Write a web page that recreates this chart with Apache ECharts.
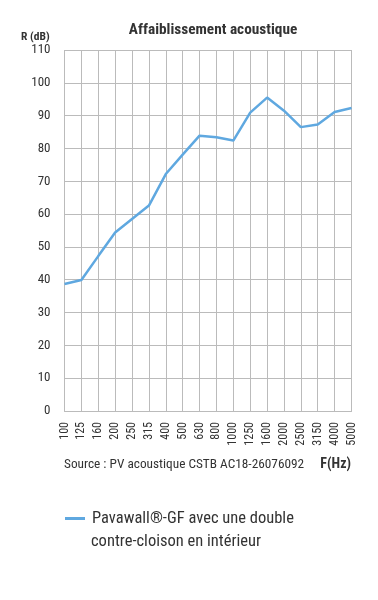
<!DOCTYPE html>
<html><head><meta charset="utf-8">
<script src="https://cdn.jsdelivr.net/npm/echarts@6/dist/echarts.min.js"></script>
<style>html,body{margin:0;padding:0;background:#fff}#c{width:378px;height:600px}</style>
</head><body><div id="c"></div>
<script>
const categories = ['100','125','160','200','250','315','400','500','630','800','1000','1250','1600','2000','2500','3150','4000','5000'];
const values = [38.7,39.9,47.2,54.4,58.5,62.6,72.2,78.1,83.9,83.4,82.4,90.9,95.5,91.5,86.5,87.3,91.1,92.3];
const yTicks = {min:0, max:110, interval:10};
const seriesName = 'Pavawall®-GF avec une double';
const seriesName2 = 'contre-cloison en intérieur';
const F = '"Roboto Condensed","Roboto",sans-serif';
const chart = echarts.init(document.getElementById('c'));
chart.setOption({
  animation:false,
  title:{text:'Affaiblissement acoustique', left:208, top:18, textAlign:'center',
    textStyle:{fontFamily:F, fontSize:15.3, fontWeight:'bold', color:'#333'}},
  grid:{left:64.5, right:26.5, top:50, bottom:189, containLabel:false},
  legend:{left:65, top:510, padding:0, itemWidth:20, itemHeight:3, icon:'rect', itemGap:0,
    data:[seriesName],
    textStyle:{fontFamily:F, fontSize:16.5, color:'#333', padding:[0,0,0,2]}},
  graphic:[
    {type:'text', left:91, top:533, style:{text:seriesName2, font:'16.5px '+F, fill:'#333'}},
    {type:'text', left:64, top:458, style:{text:'Source : PV acoustique CSTB AC18-26076092', font:'13.3px '+F, fill:'#333'}},
    {type:'text', right:27, top:457, style:{text:'F(Hz)', font:'bold 14px '+F, fill:'#333'}},
    {type:'text', left:21, top:31, style:{text:'R (dB)', font:'bold 11.5px '+F, fill:'#333'}}
  ],
  xAxis:{type:'category', data:categories, boundaryGap:false,
    axisLine:{show:true, lineStyle:{color:'#bbb'}}, axisTick:{show:false},
    axisLabel:{rotate:90, interval:0, margin:11, fontFamily:F, fontSize:12, color:'#333'},
    splitLine:{show:true, lineStyle:{color:'#bbb', width:1}}},
  yAxis:{type:'value', min:yTicks.min, max:yTicks.max, interval:yTicks.interval,
    axisLine:{show:false}, axisTick:{show:false},
    axisLabel:{margin:14, fontFamily:F, fontSize:13, color:'#333'},
    splitLine:{show:true, lineStyle:{color:'#bbb', width:1}}},
  series:[{name:seriesName, type:'line', data:values, symbol:'none',
    lineStyle:{color:'#5fa8e0', width:2.5}, itemStyle:{color:'#5fa8e0'}}]
});
</script></body></html>
